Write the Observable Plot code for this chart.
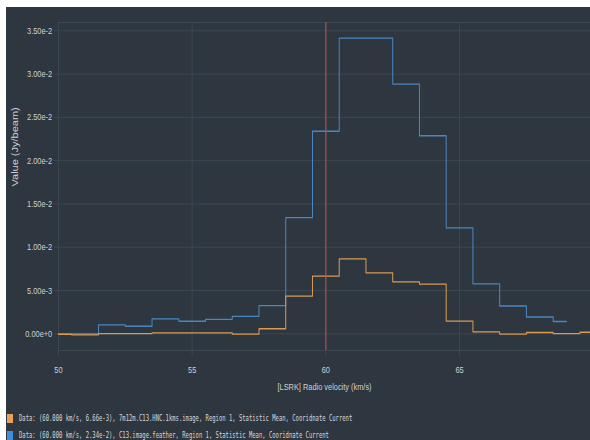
<!DOCTYPE html>
<html>
<head>
<meta charset="utf-8">
<script src="https://cdn.jsdelivr.net/npm/d3@7"></script>
<script src="https://cdn.jsdelivr.net/npm/@observablehq/plot@0.6"></script>
<style>
  html, body { margin: 0; padding: 0; background: #ffffff; }
  #panel { position: absolute; left: 6px; top: 7px; width: 584px; height: 433px; background: #2e3640; overflow: hidden; }
  #chart { position: absolute; left: 0; top: 0; width: 749px; height: 395px; transform-origin: 0 0; transform: scaleX(0.78); }
  #chart svg { max-width: none; width: 749px; height: 395px; }
  .legend-row { position: absolute; left: 1px; height: 9px; }
  .swatch { position: absolute; left: 0; top: 0; width: 6px; height: 9px; }
  .legend-text { position: absolute; left: 12px; top: -1px; white-space: nowrap; font-family: "DejaVu Sans Mono", monospace; font-size: 9px; line-height: 11px; color: #d6dadf; transform-origin: 0 50%; transform: scaleX(0.615); }
</style>
</head>
<body>
<div id="panel">
  <div id="chart"></div>
  <div id="legend"></div>
</div>
<script>
// Spectral profiles (mean over Region 1), one value per 1 km/s channel
const velocity = [50, 51, 52, 53, 54, 55, 56, 57, 58, 59, 60, 61, 62, 63, 64, 65, 66, 67, 68, 69, 70];
const hncMean = [-0.00005, -0.00004, 0.00002, 0.00003, 0.0001, 0.0001, 0.0001, -0.00004, 0.00058, 0.00434, 0.00666, 0.00865, 0.00704, 0.006, 0.00573, 0.00146, 0.00023, -0.00004, 0.00015, 0.00003, 0.00018];
const featherMean = [-0.00005, -0.00016, 0.00104, 0.00087, 0.00173, 0.00145, 0.00167, 0.00202, 0.00325, 0.01342, 0.0234, 0.03415, 0.03415, 0.02885, 0.02288, 0.01223, 0.00577, 0.00321, 0.00194, 0.00142];

const seriesNames = ["7m12m.C13.HNC.1kms.image", "C13.image.feather"];
const seriesLineColors = ["#d99a55", "#4a86c0"];
const seriesSwatchColors = ["#e8a05c", "#3f8fd8"];
const markerVelocity = 60;

const xTicks = [50, 55, 60, 65];
const yTicks = [0, 0.005, 0.01, 0.015, 0.02, 0.025, 0.03, 0.035];
const xDomain = [50, 69.9];
const yDomain = [-0.00193, 0.03596];

const xTitle = "[LSRK] Radio velocity (km/s)";
const yTitle = "Value (Jy/beam)";

const gridColor = "#3e4853";
const textColor = "#cdd2d7";
const markerColor = "#b4504e";

const hncRows = hncMean.map((v, i) => ({velocity: velocity[i], value: v}));
const featherRows = featherMean.map((v, i) => ({velocity: velocity[i], value: v}));
const sci = d3.format(".2e");

const chart = Plot.plot({
  width: 749,
  height: 395,
  marginLeft: 66.7,
  marginRight: 0,
  marginTop: 15,
  marginBottom: 52,
  style: {background: "transparent", color: textColor, fontFamily: "'Liberation Sans', Arial, sans-serif", fontSize: "9.5px", overflow: "visible", maxWidth: "none"},
  x: {domain: xDomain},
  y: {domain: yDomain},
  marks: [
    Plot.gridX(xTicks, {stroke: gridColor, strokeOpacity: 1}),
    Plot.gridY(yTicks, {stroke: gridColor, strokeOpacity: 1}),
    Plot.frame({stroke: gridColor}),
    Plot.axisX(xTicks, {tickSize: 6, tickPadding: 10, stroke: gridColor, label: null}),
    Plot.axisY(yTicks, {tickSize: 6, tickPadding: 2, stroke: gridColor, label: null, tickFormat: sci}),
    Plot.line(featherRows, {x: "velocity", y: "value", curve: "step", stroke: seriesLineColors[1], strokeWidth: 1.3, clip: true}),
    Plot.line(hncRows, {x: "velocity", y: "value", curve: "step", stroke: seriesLineColors[0], strokeWidth: 1.3, clip: true}),
    Plot.ruleX([markerVelocity], {stroke: markerColor, strokeWidth: 1.4}),
    Plot.text([xTitle], {text: d => d, frameAnchor: "bottom", dy: 39, fill: textColor, fontSize: 9.5}),
    Plot.text([yTitle], {text: d => d, frameAnchor: "left", dx: -55, rotate: -90, fill: textColor, fontSize: 11})
  ]
});
document.getElementById("chart").appendChild(chart);

// Legend rows: cursor readout for each profile at the marker velocity
const markerIndex = velocity.indexOf(markerVelocity);
const seriesValues = [hncMean[markerIndex], featherMean[markerIndex]];
const legend = document.getElementById("legend");
const rowTops = [407, 424];
seriesNames.forEach((name, i) => {
  const row = document.createElement("div");
  row.className = "legend-row";
  row.style.top = rowTops[i] + "px";
  const sw = document.createElement("div");
  sw.className = "swatch";
  sw.style.background = seriesSwatchColors[i];
  const tx = document.createElement("div");
  tx.className = "legend-text";
  tx.textContent = `Data: (${markerVelocity.toFixed(3)} km/s, ${sci(seriesValues[i])}), ${name}, Region 1, Statistic Mean, Cooridnate Current`;
  row.appendChild(sw);
  row.appendChild(tx);
  legend.appendChild(row);
});
</script>
</body>
</html>
